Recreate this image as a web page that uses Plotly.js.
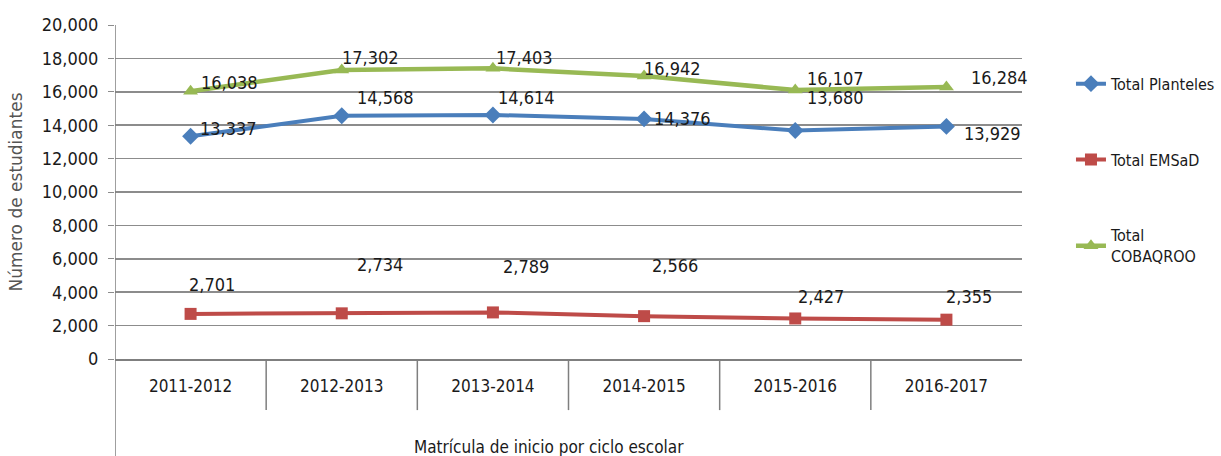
<!DOCTYPE html>
<html><head><meta charset="utf-8">
<script src="https://cdn.plot.ly/plotly-3.0.1.min.js"></script>
<style>body{margin:0;background:#fff}#chart{width:1221px;height:456px}</style>
</head><body><div id="chart"></div>
<script>
const categories = ["2011-2012","2012-2013","2013-2014","2014-2015","2015-2016","2016-2017"];
const planteles = [13337,14568,14614,14376,13680,13929];
const emsad = [2701,2734,2789,2566,2427,2355];
const cobaqroo = [16038,17302,17403,16942,16107,16284];
const seriesNames = ["Total Planteles","Total EMSaD","Total<br>COBAQROO"];
// label offsets (px) to mimic manually placed labels
const offPlanteles = [[38,-8],[44,-18],[34,-17],[38,0],[40,-33],[46,7]];
const offEmsad = [[21,-29],[38,-49],[33,-46],[31,-51],[26,-22],[23,-23]];
const offCobaqroo = [[39,-9],[29,-13],[32,-11],[28,-8],[40,-12],[53,-10]];

const FONT = '"DejaVu Sans Condensed", "Liberation Sans Narrow", sans-serif';
const colors = ['#4A7EBB','#BE4B48','#98B954'];

const traces = [
  {x:categories,y:planteles,name:seriesNames[0],mode:'lines+markers',legendgroup:'a',
   line:{color:colors[0],width:4},marker:{symbol:'diamond',size:13,color:colors[0]}},
  {x:categories,y:emsad,name:seriesNames[1],mode:'lines+markers',legendgroup:'b',
   line:{color:colors[1],width:4},marker:{symbol:'square',size:12,color:colors[1]}},
  {x:categories,y:cobaqroo,name:seriesNames[2],mode:'lines+markers',legendgroup:'c',
   line:{color:colors[2],width:4.5},marker:{symbol:'triangle-up',size:13,color:colors[2]}}
];

const annotations = [];
[[planteles,offPlanteles],[emsad,offEmsad],[cobaqroo,offCobaqroo]].forEach(([vals,offs])=>{
  vals.forEach((v,i)=>{
    annotations.push({x:categories[i],y:v,xref:'x',yref:'y',text:v.toLocaleString('en-US'),
      showarrow:false,xshift:offs[i][0],yshift:-offs[i][1],
      font:{family:FONT,size:18,color:'#1a1a1a'}});
  });
});
annotations.push({x:0.478,y:-0.263,xref:'paper',yref:'paper',yanchor:'middle',
  text:'Matrícula de inicio por ciclo escolar',showarrow:false,
  font:{family:FONT,size:17,color:'#1a1a1a'}});

const shapes = [];
for(let i=1;i<categories.length;i++){
  shapes.push({type:'line',xref:'x',yref:'paper',x0:i-0.5,x1:i-0.5,y0:0,y1:-0.153,
    line:{color:'#7f7f7f',width:1.5}});
}
shapes.push({type:'line',xref:'x',yref:'paper',x0:-0.5,x1:-0.5,y0:1,y1:-0.3,
  line:{color:'#7f7f7f',width:1.5}});

const layout = {
  width:1221,height:456,
  margin:{l:115,r:199,t:25,b:97,autoexpand:false},
  paper_bgcolor:'#fff',plot_bgcolor:'#fff',
  showlegend:true,
  legend:{x:1.054,y:0.875,xanchor:'left',yanchor:'top',traceorder:'grouped',tracegroupgap:52,
    font:{family:FONT,size:16,color:'#1a1a1a'},itemwidth:30,bgcolor:'rgba(0,0,0,0)'},
  xaxis:{type:'category',range:[-0.5,5.5],showgrid:false,showline:true,linecolor:'#7f7f7f',linewidth:2,
    ticks:'',ticklabelstandoff:11,tickfont:{family:FONT,size:17,color:'#1a1a1a'},zeroline:false,fixedrange:true},
  yaxis:{range:[0,20000],dtick:2000,tickformat:',d',showgrid:true,gridcolor:'#8c8c8c',gridwidth:1.5,
    zeroline:false,showline:false,ticks:'outside',ticklen:6,tickcolor:'#8c8c8c',ticklabelstandoff:6,
    tickfont:{family:FONT,size:18,color:'#1a1a1a'},automargin:false,
    title:{text:'Número de estudiantes',standoff:14,font:{family:'"DejaVu Sans", sans-serif',size:17,color:'#555'}}},
  annotations:annotations,
  shapes:shapes
};
Plotly.newPlot('chart',traces,layout,{displayModeBar:false,staticPlot:true});
</script></body></html>
